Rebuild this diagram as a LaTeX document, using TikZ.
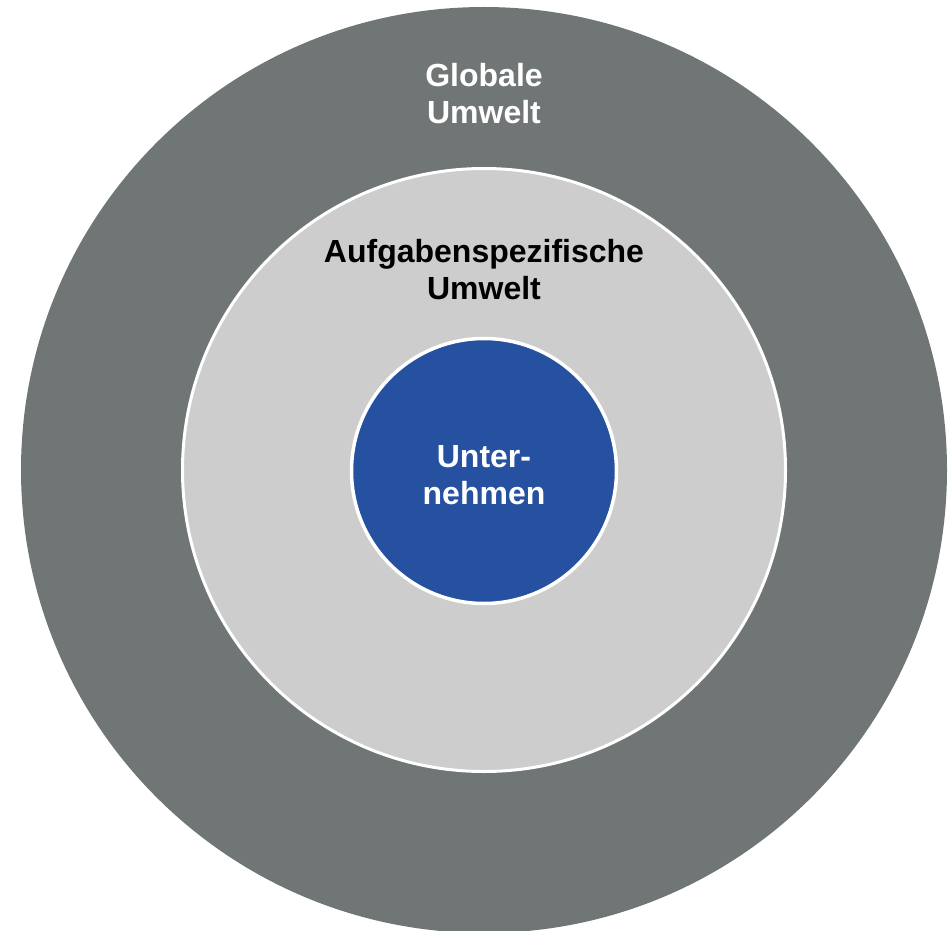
\documentclass[tikz,border=0pt]{standalone}
\usepackage{fontspec}
\setmainfont{Liberation Sans}
\definecolor{outergray}{RGB}{112,118,118}
\definecolor{innergray}{RGB}{205,205,205}
\definecolor{coreblue}{RGB}{37,81,160}
\begin{document}
\begin{tikzpicture}[x=1pt,y=-1pt,
  ring/.style={circle, inner sep=0pt, minimum size=#1},
  lbl/.style={align=center, anchor=base, font=\fontsize{32}{37}\selectfont\bfseries, inner sep=0pt}]
\useasboundingbox (0,0) rectangle (951,931);
\node[ring=926pt, fill=outergray] (outer) at (484,470) {};
\node[ring=603pt, fill=innergray, draw=white, line width=3pt] (middle) at (484,470) {};
\node[ring=265pt, fill=coreblue, draw=white, line width=3.5pt] (core) at (484,471) {};
\node[lbl, text=white] (tglob) at (484,124) {Globale\\Umwelt};
\node[lbl, text=black] (taufg) at (484,299) {Aufgabenspezifische\\Umwelt};
\node[lbl, text=white] (tunt) at (484,504) {Unter-\\nehmen};
\end{tikzpicture}
\end{document}
